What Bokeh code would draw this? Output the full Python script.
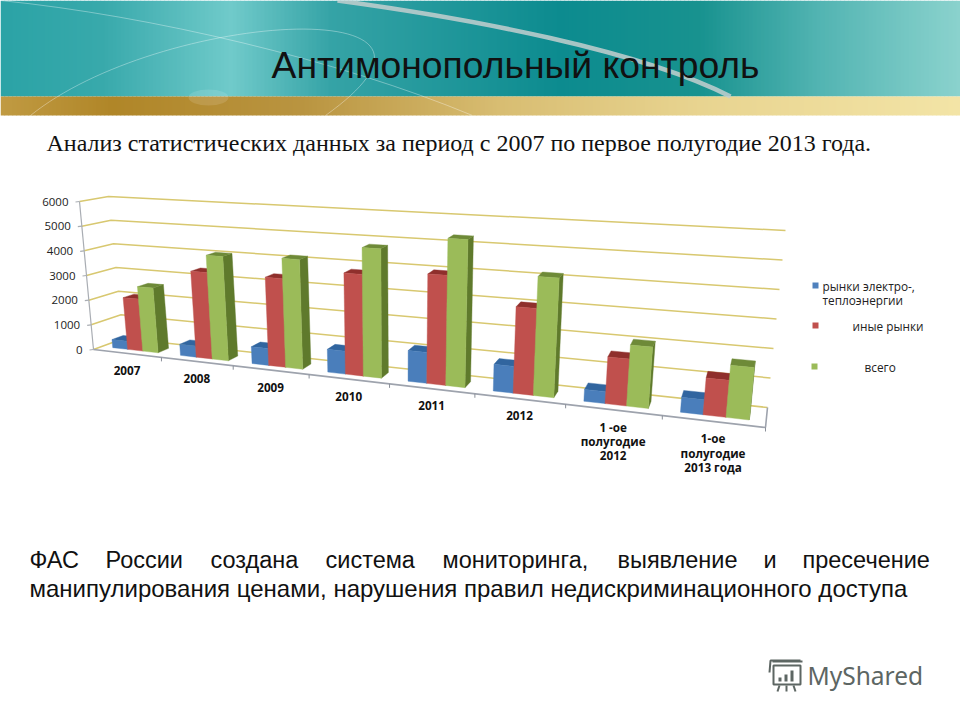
from bokeh.plotting import figure
from bokeh.embed import file_html
from bokeh.resources import INLINE
from bokeh.core.properties import value

# ---------- data ----------
categories = [["2007"], ["2008"], ["2009"], ["2010"], ["2011"], ["2012"],
              ["1 -ое", "полугодие", "2012"], ["1-ое", "полугодие", "2013 года"]]
markets_power = [330, 440, 650, 860, 1130, 950, 410, 500]
markets_other = [2100, 3400, 3400, 3800, 4000, 3070, 1610, 1230]
markets_total = [2600, 4080, 4180, 4800, 5345, 4200, 2090, 1730]
value_ticks = [0, 1000, 2000, 3000, 4000, 5000, 6000]
legend_labels = ["рынки электро-,", "теплоэнергии", "иные рынки", "всего"]

# ---------- page frame: coordinates are reference pixels ----------
p = figure(width=960, height=720, x_range=(0, 960), y_range=(720, 0),
           output_backend="svg", toolbar_location=None, min_border=0)
p.axis.visible = False
p.grid.visible = False
p.outline_line_color = None
p.background_fill_color = "white"
p.border_fill_color = "white"


def hex2(c):
    return tuple(int(c[i:i + 2], 16) for i in (1, 3, 5))


def ramp(stops, n):
    out = []
    for i in range(n):
        x = 960 * i / (n - 1)
        for (x0, c0), (x1, c1) in zip(stops, stops[1:]):
            if x0 <= x <= x1:
                f = (x - x0) / (x1 - x0)
                a, b = hex2(c0), hex2(c1)
                out.append("#%02x%02x%02x" % tuple(round(a[j] + (b[j] - a[j]) * f) for j in range(3)))
                break
    return out


teal_stops = [(0, "#2ba3a6"), (100, "#38a9ab"), (230, "#70caca"), (330, "#35a3a6"),
              (560, "#0c8b8f"), (700, "#18928f"), (820, "#52b4b2"), (960, "#8ad2cd")]
gold_stops = [(0, "#c09a42"), (110, "#b08628"), (300, "#b99440"), (500, "#d8bd72"),
              (700, "#e8d490"), (960, "#f3e4a6")]
N = 240
lefts = [960 * i / N for i in range(N)]
rights = [960 * (i + 1) / N + 0.6 for i in range(N)]
p.quad(left=lefts, right=rights, top=[0] * N, bottom=[96] * N,
       fill_color=ramp(teal_stops, N), line_color=None)
p.quad(left=lefts, right=rights, top=[96] * N, bottom=[115] * N,
       fill_color=ramp(gold_stops, N), line_color=None)
p.ellipse(x=[208], y=[97], width=[40], height=[16], fill_color="#ffffff", fill_alpha=0.12, line_color=None)
p.bezier(x0=[337], y0=[0], x1=[730], y1=[96], cx0=[470], cy0=[18], cx1=[640], cy1=[50],
         line_color="#c3cfcf", line_width=4.5, line_alpha=0.85)
p.bezier(x0=[0], y0=[0], x1=[472], y1=[115], cx0=[150], cy0=[15], cx1=[340], cy1=[60],
         line_color="#ffffff", line_width=1, line_alpha=0.35)
p.bezier(x0=[30], y0=[115], x1=[325], y1=[115], cx0=[160], cy0=[10], cx1=[500], cy1=[-10],
         line_color="#ffffff", line_width=1, line_alpha=0.35)

# ---------- perspective frame of the chart box ----------
FL0, FLT = (93, 349), (79, 201)
FR0, FRT = (765, 427), (783, 242)
BL0, BLT = (123, 338), (108, 196)
BR0, BRT = (767, 407), (785, 230)
VMAX = 6000
K = 0.27


def lerp(a, b, f):
    return (a[0] + (b[0] - a[0]) * f, a[1] + (b[1] - a[1]) * f)


def project(u, v, d):
    s = u / len(categories)
    t = s / (1 + K - K * s)
    w = v / VMAX
    front = lerp(lerp(FL0, FR0, t), lerp(FLT, FRT, t), w)
    back = lerp(lerp(BL0, BR0, t), lerp(BLT, BRT, t), w)
    return lerp(front, back, d)


GRID = "#d8c870"
AXIS = "#a9adb3"
n = len(categories)
# gridlines on side wall and back wall
for v in value_ticks:
    a, b, c = project(0, v, 0), project(0, v, 1), project(n, v, 1)
    p.line([a[0], b[0], c[0]], [a[1], b[1], c[1]], line_color=GRID, line_width=1.5)

# axes
a, b = project(0, 0, 0), project(0, VMAX, 0)
p.line([a[0], b[0]], [a[1], b[1]], line_color=AXIS, line_width=1.2)
a, b, c = project(0, 0, 0), project(n, 0, 0), project(n, 0, 1)
p.line([a[0], b[0], c[0]], [a[1], b[1], c[1]], line_color="#9ea3ad", line_width=1.6)
for v in value_ticks:
    a = project(0, v, 0)
    p.line([a[0] - 4, a[0]], [a[1] + 0.5, a[1]], line_color=AXIS, line_width=1.2)
for i in range(1, n + 1):
    a = project(i, 0, 0)
    p.line([a[0], a[0]], [a[1], a[1] + 4], line_color="#8a8f99", line_width=1)

# bars
series = [markets_power, markets_other, markets_total]
front_col = ["#4a7ebb", "#c0504d", "#9bbb59"]
top_col = ["#31659f", "#8f2f2c", "#6e8a38"]
side_col = ["#33608f", "#8a302d", "#5f7a2c"]
BAR0, BARW = 0.165, 0.225
D0, D1 = 0.28, 0.66
xs, ys, cols = [], [], []
for c in range(n):
    for k, vals in enumerate(series):
        v = vals[c]
        u0, u1 = c + BAR0 + k * BARW, c + BAR0 + (k + 1) * BARW
        faces = [
            ([(u1, 0, D0), (u1, 0, D1), (u1, v, D1), (u1, v, D0)], side_col[k]),
            ([(u0, v, D0), (u1, v, D0), (u1, v, D1), (u0, v, D1)], top_col[k]),
            ([(u0, 0, D0), (u1, 0, D0), (u1, v, D0), (u0, v, D0)], front_col[k]),
        ]
        for pts, col in faces:
            q = [project(*pt) for pt in pts]
            xs.append([z[0] for z in q])
            ys.append([z[1] for z in q])
            cols.append(col)
p.patches(xs, ys, fill_color=cols, line_color=cols, line_width=0.4)

# value tick labels
F = value("Open Sans")
tx, ty, tt = [], [], []
for v in value_ticks:
    a = project(0, v, 0)
    tx.append(a[0] - 11)
    ty.append(a[1])
    tt.append(str(v))
p.text(tx, ty, text=tt, text_font=F, text_font_size="11.5px", text_color="#222222",
       text_align="right", text_baseline="middle")

# category labels
cx, cy, ct = [], [], []
for i, lines in enumerate(categories):
    a = project(i + 0.5, 0, 0)
    for j, line in enumerate(lines):
        cx.append(a[0])
        cy.append(a[1] + 17 + j * 14.5)
        ct.append(line)
p.text(cx, cy, text=ct, text_font=F, text_font_size="11.7px", text_font_style="bold",
       text_color="#111111", text_align="center", text_baseline="middle")

# legend
p.quad(left=[812, 812, 811], right=[818, 818, 817], top=[282, 322, 363], bottom=[288, 328, 369],
       fill_color=["#4f81bd", "#c0504d", "#9bbb59"], line_color=None)
p.text([822, 822, 852, 864], [285, 299, 325, 366], text=legend_labels, text_font=F,
       text_font_size="11.8px", text_color="#222222", text_baseline="middle")

# slide texts
p.text([271], [64], text=["Антимонопольный контроль"], text_font=value("Liberation Sans"),
       text_font_size="37.3px", text_color="#111111", text_baseline="middle")
p.text([46], [142], text=["Анализ статистических данных за период с 2007 по первое полугодие 2013 года."],
       text_font=value("Liberation Serif"), text_font_size="24px", text_color="#111111", text_baseline="middle")
body_words = ["ФАС", "России", "создана", "система", "мониторинга,", "выявление", "и", "пресечение"]
body_x = [29, 105, 210, 325, 442, 617, 763, 802]
p.text(body_x, [559] * len(body_x), text=body_words, text_font=value("Liberation Sans"),
       text_font_size="23.5px", text_color="#111111", text_baseline="middle")
p.text([29], [588], text=["манипулирования ценами, нарушения правил недискриминационного доступа"],
       text_font=value("Liberation Sans"), text_font_size="24px", text_color="#111111", text_baseline="middle")

# watermark
p.text([807], [675], text=["MyShared"], text_font=value("Noto Sans"), text_font_size="24.5px",
       text_color="#5d6663", text_baseline="middle")
p.quad(left=[773], right=[800], top=[665], bottom=[684], fill_color=None, line_color="#5d6663", line_width=2)
p.multi_line([[772, 802], [779, 777], [786, 786], [793, 795], [769, 770, 800]],
             [[661, 661], [685, 691], [685, 691], [685, 691], [672, 660, 660]],
             line_color="#5d6663", line_width=2)
p.quad(left=[778, 784, 790], right=[781, 787, 793], top=[677, 674, 670], bottom=[681, 681, 681],
       fill_color="#5d6663", line_color=None)

open("out.html", "w").write(file_html(p, INLINE))
